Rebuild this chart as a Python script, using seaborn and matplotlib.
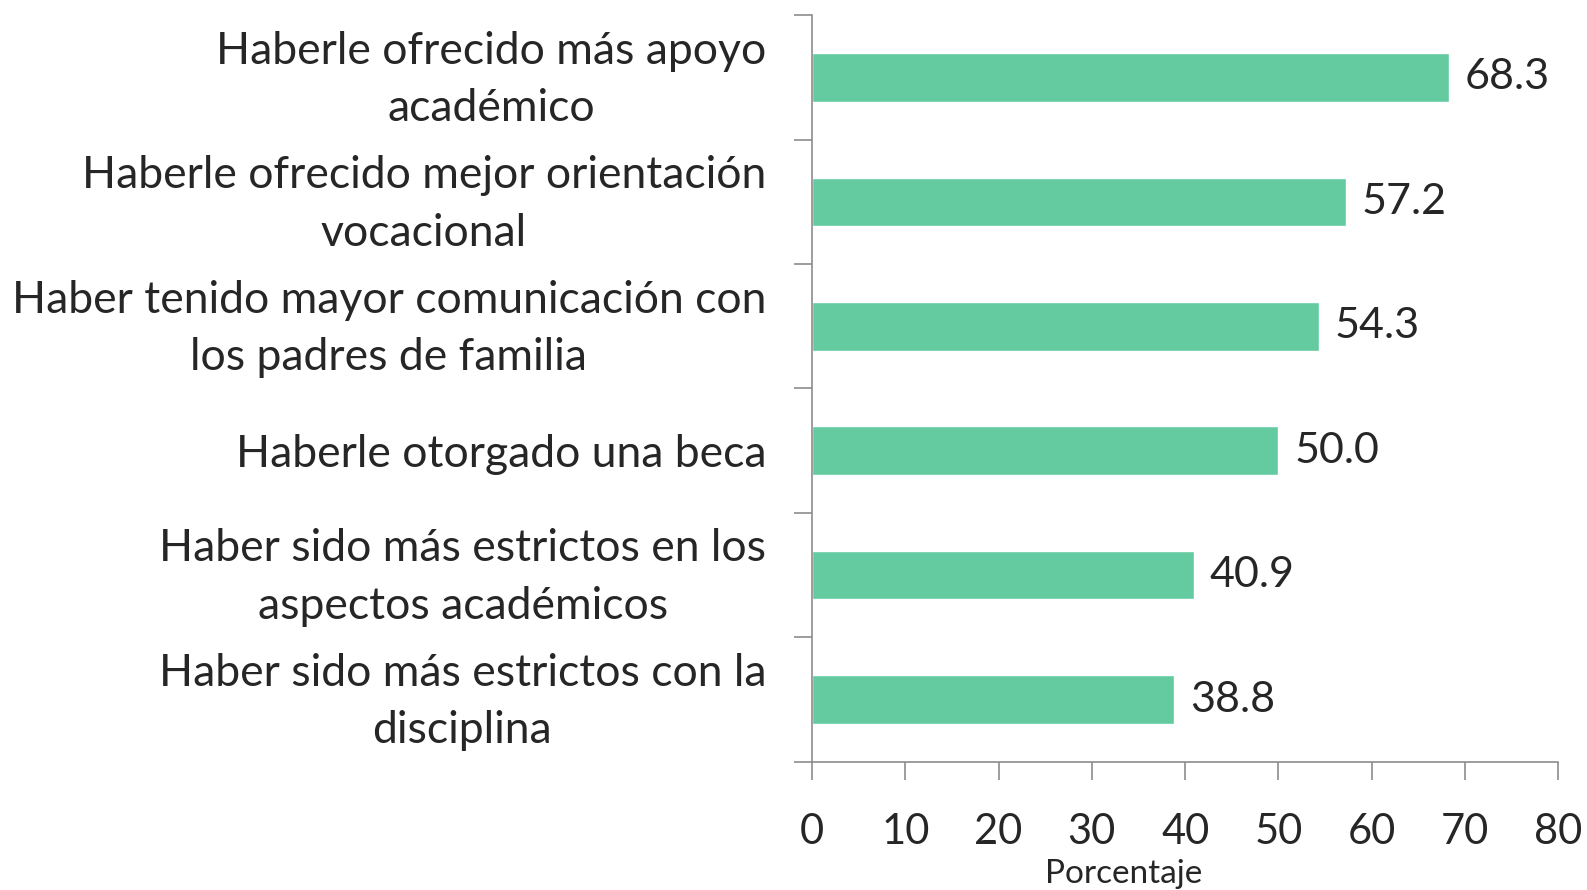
import matplotlib
matplotlib.use("Agg")
import matplotlib.pyplot as plt
import matplotlib.transforms as mtransforms
import seaborn as sns
import pandas as pd

# data
categorias = [
    "Haberle ofrecido más apoyo\nacadémico",
    "Haberle ofrecido mejor orientación\nvocacional",
    "Haber tenido mayor comunicación con\nlos padres de familia",
    "Haberle otorgado una beca",
    "Haber sido más estrictos en los\naspectos académicos",
    "Haber sido más estrictos con la\ndisciplina",
]
porcentajes = [68.3, 57.2, 54.3, 50.0, 40.9, 38.8]
xticks = [0, 10, 20, 30, 40, 50, 60, 70, 80]

df = pd.DataFrame({"categoria": categorias, "porcentaje": porcentajes})

sns.set_style("white")
plt.rcParams["font.family"] = ["Lato", "DejaVu Sans"]

fig = plt.figure(figsize=(15.87, 8.90), dpi=100)
ax = fig.add_axes([0.5116, 0.144, 0.982 - 0.5116, 0.983 - 0.144])

sns.barplot(data=df, x="porcentaje", y="categoria", orient="h",
            color="#64CBA0", saturation=1, width=0.39, ax=ax)

ax.set_xlim(0, 80)
ax.set_ylim(5.5, -0.5)
ax.set_xticks(xticks)
ax.set_xticklabels([str(t) for t in xticks], fontsize=30)

# category labels at band centers, ticks at band edges
ax.set_yticks(range(len(categorias)))
ax.set_yticklabels(categorias, fontsize=32, multialignment="center", linespacing=1.5)
ax.tick_params(axis="y", which="major", left=False, length=0, pad=33)
ax.set_yticks([i - 0.5 for i in range(len(categorias) + 1)], minor=True)
ax.tick_params(axis="y", which="minor", left=True, length=13, width=1.2,
               color="#8c8c8c", direction="out")
ax.tick_params(axis="x", which="major", bottom=True, length=13, width=1.2,
               color="#8c8c8c", direction="out", pad=24)

for side in ["top", "right"]:
    ax.spines[side].set_visible(False)
for side in ["left", "bottom"]:
    ax.spines[side].set_color("#8c8c8c")
    ax.spines[side].set_linewidth(1.2)

for i, v in enumerate(porcentajes):
    ax.text(v + 1.7, i, f"{v:.1f}", va="center", ha="left", fontsize=31)

ax.set_ylabel("")
ax.set_xlabel("Porcentaje", fontsize=24)
ax.xaxis.set_label_coords(0.417, -0.13)

# two-line labels sit a little high in the original, nudge them up
shift = mtransforms.ScaledTranslation(0, 7 / 72, fig.dpi_scale_trans)
for lbl in ax.get_yticklabels():
    if "\n" in lbl.get_text():
        lbl.set_transform(lbl.get_transform() + shift)

fig.savefig("out.png", dpi=100)
